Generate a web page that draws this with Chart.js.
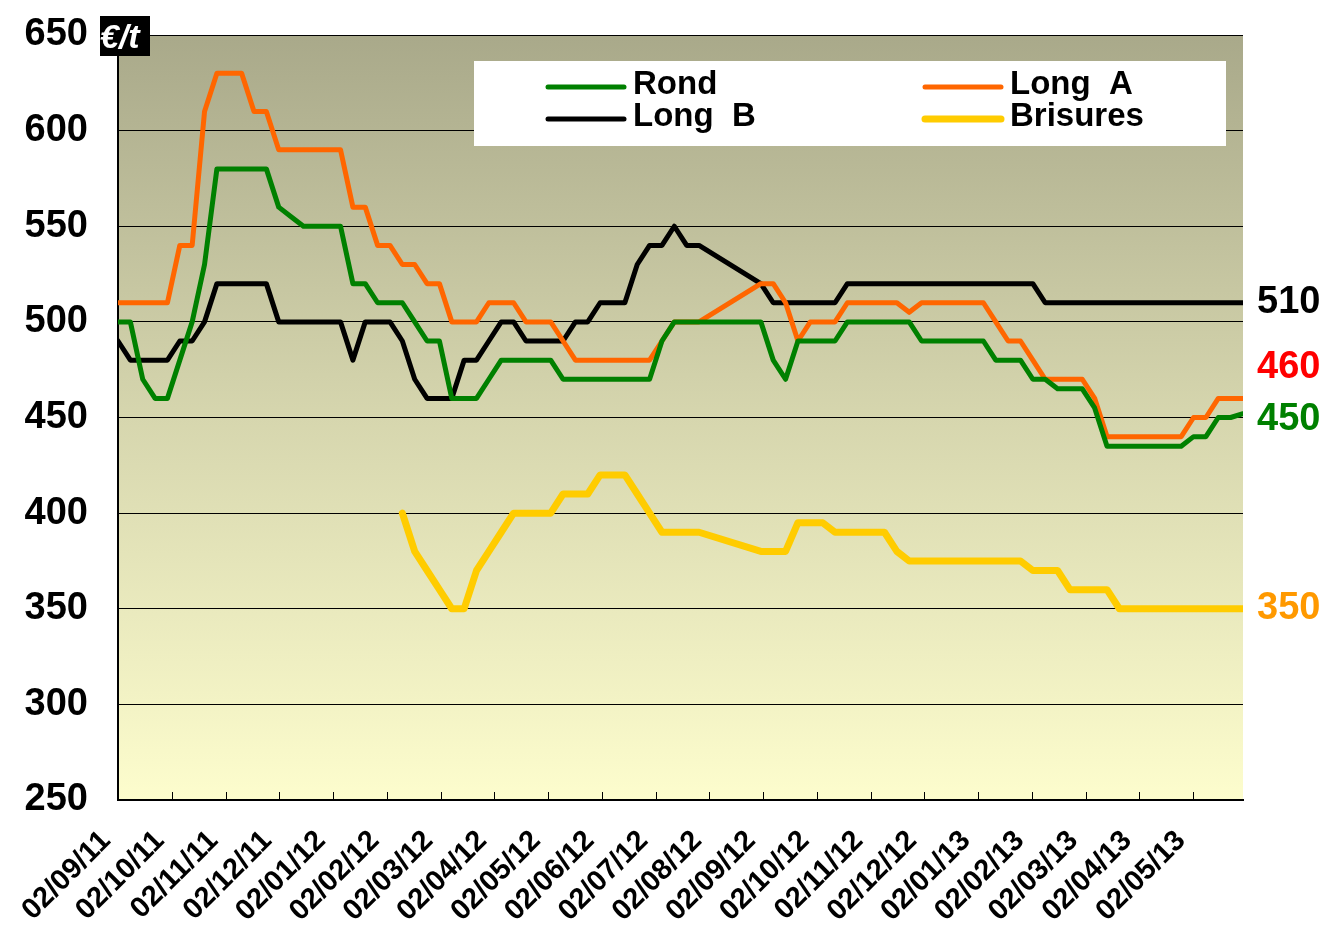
<!DOCTYPE html>
<html>
<head>
<meta charset="utf-8">
<title>Prix riz</title>
<script src="https://cdn.jsdelivr.net/npm/chart.js@4/dist/chart.umd.min.js"></script>
<style>
  html, body { margin: 0; padding: 0; background: #fff; }
  #wrap { width: 1327px; height: 925px; }
</style>
</head>
<body>
<div id="wrap"><canvas id="priceChart" width="1327" height="925"></canvas></div>
<script>
// weekly prices (€/t), week 0 = 02/09/11 ; null = no quote
var monthLabels = ['02/09/11','02/10/11','02/11/11','02/12/11','02/01/12','02/02/12','02/03/12',
  '02/04/12','02/05/12','02/06/12','02/07/12','02/08/12','02/09/12','02/10/12','02/11/12',
  '02/12/12','02/01/13','02/02/13','02/03/13','02/04/13','02/05/13'];

var rond = [500,500,470,460,460,480,500,530,580,580,580,580,580,560,555,550,550,550,550,520,
  520,510,510,510,500,490,490,460,460,460,470,480,480,480,480,480,470,470,470,470,
  470,470,470,470,490,500,500,500,null,null,null,null,500,480,470,490,490,490,490,500,
  500,500,500,500,500,490,490,490,490,490,490,480,480,480,470,470,465,465,465,455,
  435,435,435,435,435,435,435,440,440,450,450,452];

var longA = [510,510,510,510,510,540,540,610,630,630,630,610,610,590,590,590,590,590,590,560,
  560,540,540,530,530,520,520,500,500,500,510,510,510,500,500,500,490,480,480,480,
  480,480,480,480,490,500,500,500,null,null,null,null,520,520,510,490,500,500,500,510,
  510,510,510,510,505,510,510,510,510,510,510,500,490,490,480,470,470,470,470,460,
  440,440,440,440,440,440,440,450,450,460,460,460];

var longB = [490,480,480,480,480,490,490,500,520,520,520,520,520,500,500,500,500,500,500,480,
  500,500,500,490,470,460,460,460,480,480,490,500,500,490,490,490,490,500,500,510,
  510,510,530,540,540,550,540,540,null,null,null,null,520,510,510,510,510,510,510,520,
  520,520,520,520,520,520,520,520,520,520,520,520,520,520,520,510,510,510,510,510,
  510,510,510,510,510,510,510,510,510,510,510,510];

var brisures = [null,null,null,null,null,null,null,null,null,null,null,null,null,null,null,null,null,null,null,null,
  null,null,null,400,380,370,360,350,350,370,380,390,400,400,400,400,410,410,410,420,
  420,420,410,400,390,390,390,390,null,null,null,null,380,380,380,395,395,395,390,390,
  390,390,390,380,375,375,375,375,375,375,375,375,375,375,370,370,370,360,360,360,
  360,350,350,350,350,350,350,350,350,350,350,350];

var lastLabels = ['510', '460', '450', '350'];

var WEEKS_PER_MONTH = 365.25 / 12 / 7;
var FONT = '"Liberation Sans", Arial, sans-serif';

function toPoints(arr) {
  return arr.map(function(v, i) { return { x: i, y: v }; });
}

function noOverhang(scale) {
  scale.paddingTop = 0;
  scale.paddingBottom = 0;
  scale.paddingLeft = 0;
  scale.paddingRight = 0;
}

// background gradient of the plot area
var plotBg = {
  id: 'plotBg',
  beforeDraw: function(chart) {
    var a = chart.chartArea, ctx = chart.ctx;
    var g = ctx.createLinearGradient(0, a.top, 0, a.bottom);
    g.addColorStop(0, '#a9a98a');
    g.addColorStop(0.5, '#d6d6ae');
    g.addColorStop(1, '#fdfdcd');
    ctx.save();
    ctx.fillStyle = g;
    ctx.fillRect(a.left, a.top, a.right - a.left, a.bottom - a.top);
    ctx.restore();
  }
};

// legend box, month ticks, end values and unit box
var extras = {
  id: 'extras',
  afterDraw: function(chart) {
    var a = chart.chartArea, ctx = chart.ctx;
    var xs = chart.scales.x;
    ctx.save();

    // month tick marks inside the plot
    ctx.strokeStyle = '#000';
    ctx.lineWidth = 1;
    monthLabels.forEach(function(l, i) {
      var px = Math.round(xs.getPixelForValue(i * WEEKS_PER_MONTH)) + 0.5;
      ctx.beginPath();
      ctx.moveTo(px, a.bottom);
      ctx.lineTo(px, a.bottom - 8);
      ctx.stroke();
    });

    // legend
    var bx = 474, by = 61;
    ctx.fillStyle = '#fff';
    ctx.fillRect(bx, by, 752, 85);
    var cols = [bx + 74, bx + 451];
    var rows = [by + 26, by + 58];
    [0, 1, 2, 3].forEach(function(di, k) {
      var ds = chart.data.datasets[di];
      var cx = cols[k % 2], cy = rows[Math.floor(k / 2)];
      ctx.strokeStyle = ds.borderColor;
      ctx.lineWidth = di === 3 ? 7 : 5;
      ctx.lineCap = 'round';
      ctx.beginPath();
      ctx.moveTo(cx, cy);
      ctx.lineTo(cx + 76, cy);
      ctx.stroke();
      ctx.fillStyle = '#000';
      ctx.font = 'bold 33px ' + FONT;
      ctx.textBaseline = 'middle';
      ctx.textAlign = 'left';
      ctx.fillText(ds.label, cx + 85, cy - 2);
    });

    // end-of-series values
    var endColors = ['#000000', '#ff0000', '#008000', '#ff9900'];
    var endY = [303, 368, 420, 609];
    ctx.font = 'bold 38px ' + FONT;
    ctx.textBaseline = 'middle';
    ctx.textAlign = 'left';
    lastLabels.forEach(function(t, i) {
      ctx.fillStyle = endColors[i];
      ctx.fillText(t, a.right + 14, endY[i]);
    });

    // unit box
    ctx.fillStyle = '#000';
    ctx.fillRect(100, 16, 50, 40);
    ctx.beginPath();
    ctx.rect(100, 16, 50, 40);
    ctx.clip();
    ctx.fillStyle = '#fff';
    ctx.font = 'italic bold 34px ' + FONT;
    ctx.textBaseline = 'alphabetic';
    ctx.fillText('€/t', 100, 48);
    ctx.restore();
  }
};

var ctx = document.getElementById('priceChart').getContext('2d');
var chart = new Chart(ctx, {
  type: 'line',
  data: {
    datasets: [
      { label: 'Rond', data: toPoints(rond), borderColor: '#008000', borderWidth: 5 },
      { label: 'Long  A', data: toPoints(longA), borderColor: '#ff6600', borderWidth: 5 },
      { label: 'Long  B', data: toPoints(longB), borderColor: '#000000', borderWidth: 5 },
      { label: 'Brisures', data: toPoints(brisures), borderColor: '#ffcc00', borderWidth: 7 }
    ]
  },
  options: {
    responsive: false,
    animation: false,
    devicePixelRatio: 1,
    spanGaps: true,
    elements: {
      point: { radius: 0 },
      line: { tension: 0, borderJoinStyle: 'round', borderCapStyle: 'round', fill: false }
    },
    layout: { padding: { top: 35, right: 84, left: 0, bottom: 0 } },
    plugins: {
      legend: { display: false },
      tooltip: { enabled: false }
    },
    scales: {
      x: {
        type: 'linear',
        min: 0,
        max: 91,
        grid: { display: false },
        border: { color: '#000', width: 2 },
        afterBuildTicks: function(scale) {
          scale.ticks = monthLabels.map(function(l, i) { return { value: i * WEEKS_PER_MONTH }; });
        },
        afterFit: function(scale) { scale.height = 125; noOverhang(scale); },
        ticks: {
          autoSkip: false,
          maxRotation: 45,
          minRotation: 45,
          padding: 16,
          labelOffset: -12,
          color: '#000',
          font: { family: FONT, size: 29, weight: 'bold' },
          callback: function(v, i) { return monthLabels[i]; }
        }
      },
      y: {
        min: 250,
        max: 650,
        afterFit: function(scale) { scale.width = 118; noOverhang(scale); },
        grid: { color: '#000', lineWidth: 1, drawTicks: false },
        border: { color: '#000', width: 2 },
        ticks: {
          stepSize: 50,
          padding: 30,
          color: '#000',
          font: { family: FONT, size: 38, weight: 'bold' }
        }
      }
    }
  },
  plugins: [plotBg, extras]
});
</script>
</body>
</html>
